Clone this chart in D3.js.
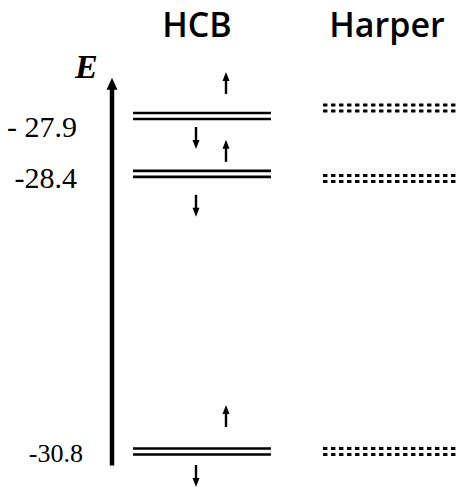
<!DOCTYPE html>
<html>
<head>
<meta charset="utf-8">
<script src="https://cdn.jsdelivr.net/npm/d3@7"></script>
<style>
  html, body { margin: 0; padding: 0; background: #fff; }
  svg { display: block; }
</style>
</head>
<body>
<svg id="chart" width="458" height="487"></svg>
<script>
// ---- data ----
const methods = ["HCB", "Harper"];
const hcbLevels = [-27.9, -28.4, -30.8];
const harperLevels = [-27.83, -28.44, -30.8];
const levelLabels = ["- 27.9", "-28.4", "-30.8"];
const axisTitle = "E";

// ---- layout / style ----
const svg = d3.select("#chart");
const y = d3.scaleLinear().domain([-30.8, -27.9]).range([451.5, 116]);
const x = d3.scaleBand().domain(methods).range([133, 461]).paddingInner(0.274).paddingOuter(0);
const axisX = 112;
const axisDomain = [-30.92, -27.57];

function arrowHead(cx, tipY, dir, w, h) {
  // dir = -1 points up, +1 points down
  const baseY = tipY - dir * h;
  svg.append("path")
    .attr("d", `M${cx - w / 2},${baseY} L${cx},${tipY} L${cx + w / 2},${baseY} Z`)
    .attr("fill", "#000");
}

// energy axis
const axTop = y(axisDomain[1]);
svg.append("line")
  .attr("x1", axisX).attr("x2", axisX)
  .attr("y1", y(axisDomain[0])).attr("y2", axTop + 10)
  .attr("stroke", "#000").attr("stroke-width", 4.5);
arrowHead(axisX, axTop, -1, 11, 12);

svg.append("text")
  .attr("x", 75).attr("y", 78)
  .attr("font-family", "'Liberation Serif', serif")
  .attr("font-style", "italic").attr("font-weight", "bold")
  .attr("font-size", 34).text(axisTitle);

// column titles
svg.selectAll("text.title").data(methods).enter().append("text")
  .attr("class", "title")
  .attr("x", d => x(d) + x.bandwidth() / 2 - 5)
  .attr("y", 37)
  .attr("text-anchor", "middle")
  .attr("font-family", "'Open Sans', sans-serif")
  .attr("font-weight", 600)
  .attr("font-size", 34)
  .text(d => d);

// HCB double lines
const gap = 3;
hcbLevels.forEach(v => {
  [-gap, gap].forEach(o => {
    svg.append("line")
      .attr("x1", x("HCB")).attr("x2", x("HCB") + x.bandwidth())
      .attr("y1", y(v) + o).attr("y2", y(v) + o)
      .attr("stroke", "#000").attr("stroke-width", 2.6);
  });
});

// Harper dotted double lines
harperLevels.forEach(v => {
  [-gap, gap].forEach(o => {
    svg.append("line")
      .attr("x1", x("Harper")).attr("x2", x("Harper") + x.bandwidth())
      .attr("y1", y(v) + o).attr("y2", y(v) + o)
      .attr("stroke", "#000").attr("stroke-width", 3)
      .attr("stroke-dasharray", "4.4,3.6");
  });
});

// spin arrows (offsets in px relative to level: [upTop, downTop])
const spinOffsets = [[-44, 11], [-34, 21], [-46.5, 13.5]];
const arrowLen = 22;
hcbLevels.forEach((v, i) => {
  const ly = y(v);
  const upX = x("HCB") + 93, downX = x("HCB") + 63;
  const [upTop, downTop] = spinOffsets[i];
  svg.append("line")
    .attr("x1", upX).attr("x2", upX)
    .attr("y1", ly + upTop + arrowLen).attr("y2", ly + upTop + 6)
    .attr("stroke", "#000").attr("stroke-width", 2.4);
  arrowHead(upX, ly + upTop, -1, 7, 9);
  svg.append("line")
    .attr("x1", downX).attr("x2", downX)
    .attr("y1", ly + downTop).attr("y2", ly + downTop + arrowLen - 6)
    .attr("stroke", "#000").attr("stroke-width", 2.4);
  arrowHead(downX, ly + downTop + arrowLen, 1, 7, 9);
});

// level labels
const labelPos = [[77, 21, 30], [77, 14, 30], [83, 10.5, 26]];
hcbLevels.forEach((v, i) => {
  svg.append("text")
    .attr("x", labelPos[i][0]).attr("y", y(v) + labelPos[i][1])
    .attr("text-anchor", "end")
    .attr("font-family", "'Liberation Serif', serif")
    .attr("font-size", labelPos[i][2])
    .text(levelLabels[i]);
});
</script>
</body>
</html>
